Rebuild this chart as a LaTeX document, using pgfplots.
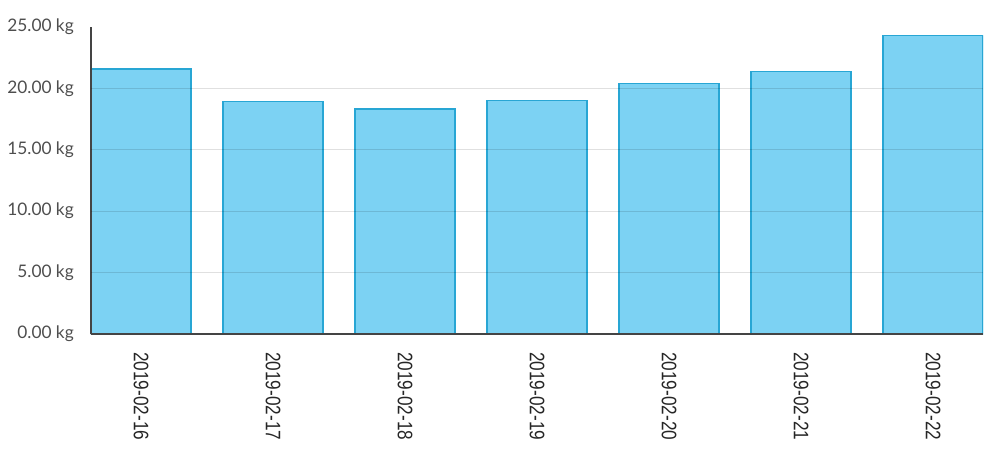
\documentclass[border=0pt]{standalone}
\usepackage{fontspec}
\usepackage{graphicx}
\usepackage{pgfplots}
\pgfplotsset{compat=1.18}
\setmainfont{Lato}
\newfontfamily\arialish{Liberation Sans}
\definecolor{BarFill}{HTML}{24B4EB}
\definecolor{BarEdge}{HTML}{28A6D4}
\definecolor{AxisInk}{HTML}{444444}
\definecolor{LabelInk}{HTML}{4E4E4E}
\newcommand\datelbl[1]{\scalebox{1}[1.22]{#1}}

\begin{document}
\begin{tikzpicture}
  \path[use as bounding box] (-91pt,-129pt) rectangle (909pt,334pt);
  \begin{axis}[
    scale only axis,
    width=892pt,height=307pt,
    at={(0,0)},anchor=south west,
    xmin=-0.379,xmax=6.379,
    ymin=0,ymax=25,
    axis x line*=bottom,axis y line*=left,
    axis line style={AxisInk,line width=1.3pt,-},
    axis on top,
    major tick length=0pt,
    xtick={0,...,6},
    xticklabels={\datelbl{2019-02-16},\datelbl{2019-02-17},\datelbl{2019-02-18},
      \datelbl{2019-02-19},\datelbl{2019-02-20},\datelbl{2019-02-21},\datelbl{2019-02-22}},
    xticklabel style={font=\arialish\fontsize{17.2}{18}\selectfont,color=black!85,
      rotate=-90,anchor=west,inner sep=0pt,xshift=18pt},
    ytick={0,5,...,25},
    yticklabel={\pgfmathprintnumber[fixed,fixed zerofill,precision=2]{\tick} kg},
    /pgf/number format/assume math mode=true,
    yticklabel style={font=\fontsize{17.3}{19}\selectfont,color=LabelInk,
      anchor=east,inner sep=0pt,xshift=-17pt},
    extra y ticks={5,10,15,20},
    extra y tick labels={},
    extra y tick style={ymajorgrids=true,grid style={black,opacity=0.12,line width=1pt}},
    ybar,bar width=0.758,bar shift=0pt,
  ]
    \addplot[fill=BarFill,fill opacity=0.6,draw=BarEdge,draw opacity=1,line width=1.5pt]
      coordinates {
        (0,21.60) (1,18.92) (2,18.32) (3,19.03) (4,20.38) (5,21.39) (6,24.29)
      };
  \end{axis}
\end{tikzpicture}
\end{document}
